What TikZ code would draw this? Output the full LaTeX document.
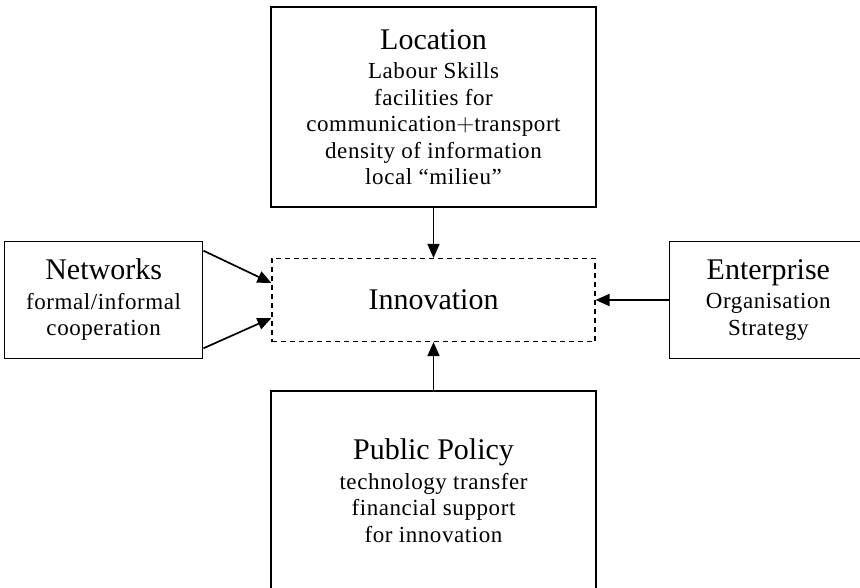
\documentclass[tikz,border=0pt]{standalone}
\usepackage{fontspec}
\setmainfont{Liberation Serif}
\newfontfamily\subfont[LetterSpace=2.5]{Liberation Serif}
\usetikzlibrary{arrows.meta, positioning}
\tikzset{
  box/.style ={rectangle, draw=black, line width=1.6pt, align=center,
               minimum width=325pt, minimum height=200pt, inner sep=0pt,
               font=\subfont\fontsize{23}{26.5}\selectfont},
  side/.style={box, minimum width=198pt, minimum height=117pt},
  core/.style={rectangle, draw=black, line width=1.1pt,
               dash pattern=on 5pt off 4pt,
               minimum width=323pt, minimum height=83pt,
               font=\fontsize{30}{34}\selectfont},
  arr/.style ={-{Triangle[length=14pt,width=12pt]}, line width=1.7pt}
}
\newcommand{\head}[1]{{\normalfont\fontsize{30}{34}\selectfont #1}}

\begin{document}
\begin{tikzpicture}[x=1pt, y=1pt, node distance=50pt and 68pt]
    \clip (0,0) rectangle (860,-588);
    \node[core] (innov) at (433.5,-300) {Innovation};
    \node[box, above=50pt of innov] (loc) {\head{Location}\\[3pt]
        Labour Skills\\ facilities for\\ communication$+$transport\\
        density of information\\ local “milieu”};
    \node[box, below=48pt of innov] (pol) {\head{Public Policy}\\[3pt]
        technology transfer\\ financial support\\ for innovation};
    \node[side, left=68pt of innov] (net) {\head{Networks}\\[3pt]
        formal/informal\\ cooperation};
    \node[side, right=73pt of innov] (ent) {\head{Enterprise}\\[3pt]
        Organisation\\ Strategy};
    \draw[arr] (loc) -- (innov);
    \draw[arr] (pol) -- (innov);
    \draw[arr] (ent) -- (innov);
    \draw[arr] ([yshift=-10pt]net.north east) -- ([yshift=17pt]innov.west);
    \draw[arr] ([yshift=11pt]net.south east) -- ([yshift=-18pt]innov.west);
\end{tikzpicture}
\end{document}
